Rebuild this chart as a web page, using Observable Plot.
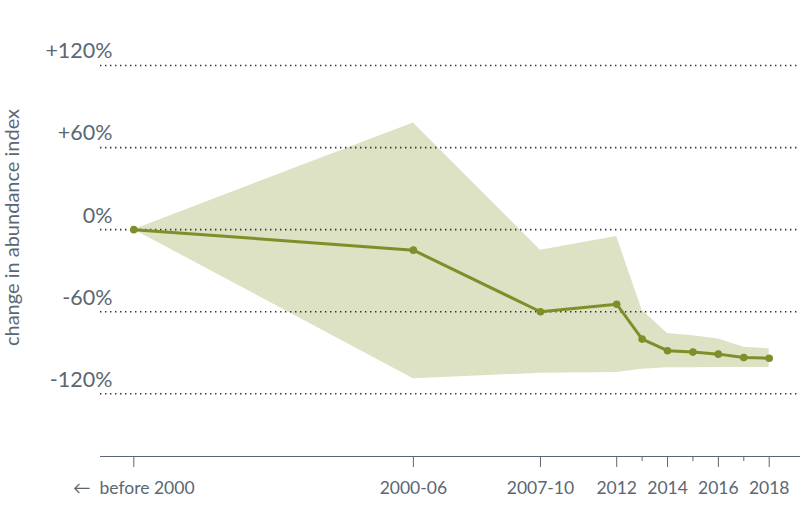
<!DOCTYPE html>
<html>
<head>
<meta charset="utf-8">
<script src="https://cdn.jsdelivr.net/npm/d3@7"></script>
<script src="https://cdn.jsdelivr.net/npm/@observablehq/plot@0.6"></script>
<style>
  html, body { margin: 0; padding: 0; background: #fff; }
  svg { display: block; }
</style>
</head>
<body>
<div id="chart"></div>
<script>
// Periods and their position on a year scale
const periods = ["before 2000", "2000-06", "2007-10", "2012", "2013", "2014", "2015", "2016", "2017", "2018"];
const yearPos = [1993, 2004, 2009, 2012, 2013, 2014, 2015, 2016, 2017, 2018];
// Change in abundance index (%)
const change = [0, -15, -60, -54.5, -80, -88.5, -89.5, -91, -93.5, -94];
const upper  = [0, 78, -15, -5, -59, -76, -77.5, -80, -86, -87];
const lower  = [0, -109, -105, -104.5, -102, -101, -101, -100.8, -100.8, -100.7];
// Axis ticks
const yTicks = [120, 60, 0, -60, -120];
const yTickLabels = ["+120%", "+60%", "0%", "-60%", "-120%"];
const xMajor = [1993, 2004, 2009, 2012, 2014, 2016, 2018];
const xMajorLabels = ["\u2190  before 2000", "2000-06", "2007-10", "2012", "2014", "2016", "2018"];
const xMinor = [2013, 2015, 2017];
const yLabel = "change in abundance index";

const data = periods.map((p, i) => ({period: p, x: yearPos[i], v: change[i], hi: upper[i], lo: lower[i]}));

const grey = "#5b6773";
const olive = "#7d8f28";
const band = "#dce2c3";
const font = "Lato, 'Open Sans', sans-serif";

const plot = Plot.plot({
  width: 800,
  height: 509,
  marginLeft: 100,
  marginRight: 0,
  marginTop: 0,
  marginBottom: 53,
  style: {fontFamily: font, background: "#fff", overflow: "visible"},
  x: {domain: [1993, 2018], range: [133.3, 768.7]},
  y: {domain: [-120, 120], range: [393.3, 65]},
  marks: [
    Plot.areaY(data, {x: "x", y1: "lo", y2: "hi", fill: band, curve: "linear"}),
    Plot.ruleY(yTicks, {stroke: "#333", strokeWidth: 1.6, strokeDasharray: "1.4,3.6", strokeLinecap: "butt"}),
    Plot.line(data, {x: "x", y: "v", stroke: olive, strokeWidth: 3}),
    Plot.dot(data, {x: "x", y: "v", r: 3.8, fill: olive, stroke: "none"}),
    Plot.frame({anchor: "bottom", stroke: grey, strokeWidth: 1}),
    Plot.axisY({
      ticks: yTicks,
      tickFormat: (d) => yTickLabels[yTicks.indexOf(d)],
      tickSize: 0, tickPadding: 0, dx: 12, dy: -14,
      textAnchor: "end", fontSize: 21.5, fill: grey, label: null
    }),
    Plot.axisX({
      ticks: xMajor,
      tickFormat: (d) => xMajorLabels[xMajor.indexOf(d)],
      tickSize: 11, tickPadding: 14, fontSize: 17.5, fill: grey, stroke: grey, label: null
    }),
    Plot.axisX({
      ticks: xMinor, tickFormat: () => "", tickSize: 5, stroke: grey, label: null
    }),
    Plot.text([yLabel], {
      frameAnchor: "left", rotate: -90, dx: -88, dy: -1, text: (d) => d,
      fontSize: 20, fill: grey, textAnchor: "middle", lineAnchor: "middle"
    })
  ]
});
document.getElementById("chart").append(plot);
</script>
</body>
</html>
